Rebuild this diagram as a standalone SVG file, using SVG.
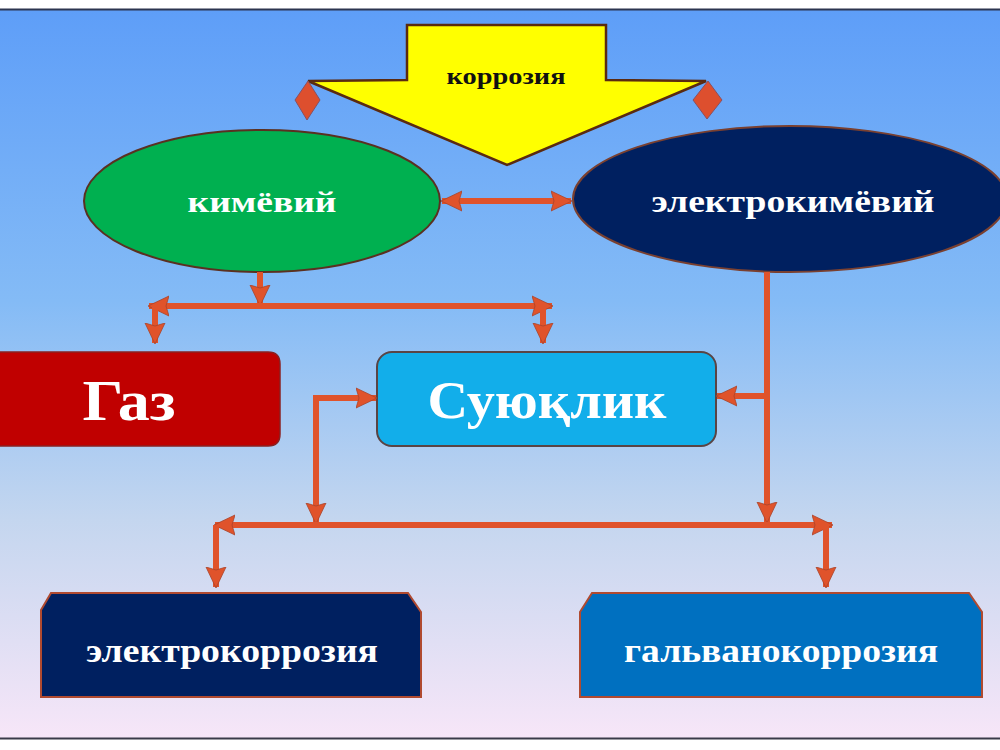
<svg xmlns="http://www.w3.org/2000/svg" width="1000" height="750" viewBox="0 0 1000 750">
<defs>
<linearGradient id="bg" x1="0" y1="0" x2="0" y2="1">
<stop offset="0" stop-color="#5e9ef8"/>
<stop offset="0.4" stop-color="#84bbf6"/>
<stop offset="0.7" stop-color="#c4d6ef"/>
<stop offset="1" stop-color="#f7e6f8"/>
</linearGradient>
<marker id="ah" viewBox="0 0 22 22" markerWidth="22" markerHeight="22" refX="20" refY="11" orient="auto-start-reverse" markerUnits="userSpaceOnUse">
<path d="M0,1 L21,11 L0,21 L3,11 z" fill="#e0532b" stroke="#a8442c" stroke-width="0.8"/>
</marker>
<style>
.t{font-family:"Liberation Serif","Times New Roman",serif;font-weight:bold;text-anchor:middle}
.c{stroke:#e0532b;stroke-width:6;fill:none}
.ca{stroke:#e0532b;stroke-width:6;fill:none;marker-end:url(#ah)}
.cd{stroke:#e0532b;stroke-width:6;fill:none;marker-start:url(#ah);marker-end:url(#ah)}
.dia{fill:#dd4f2e;stroke:#8a5060;stroke-width:1}
</style>
</defs>
<rect x="0" y="0" width="1000" height="750" fill="#ffffff"/>
<rect x="0" y="10" width="1000" height="728" fill="url(#bg)"/>
<line x1="0" y1="9.5" x2="1000" y2="9.5" stroke="#2c3550" stroke-width="2"/>
<line x1="0" y1="738.5" x2="1000" y2="738.5" stroke="#3a3a48" stroke-width="2"/>

<g id="korroziya">
<polygon points="407,25 606,25 606,80 706,81 507,165 308,81 407,80" fill="#ffff00" stroke="#5a2a10" stroke-width="2.5" stroke-linejoin="miter"/>
<text class="t" x="506" y="84" font-size="24" textLength="119" lengthAdjust="spacingAndGlyphs" fill="#111">коррозия</text>
<polygon class="dia" points="308,81 320,100 307,120 295,100"/>
<polygon class="dia" points="708,81 722,100 707,119 693,100"/>
</g>

<g id="kimeviy">
<ellipse cx="262" cy="201" rx="178" ry="71" fill="#00b050" stroke="#5a3020" stroke-width="2"/>
<text class="t" x="262" y="212" font-size="30" textLength="149" lengthAdjust="spacingAndGlyphs" fill="#ffffff">кимёвий</text>
</g>

<g id="elektrokimeviy">
<ellipse cx="790" cy="199" rx="217" ry="73" fill="#002060" stroke="#7a4030" stroke-width="2"/>
<text class="t" x="793" y="212" font-size="31" textLength="283" lengthAdjust="spacingAndGlyphs" fill="#ffffff">электрокимёвий</text>
</g>

<g id="gaz">
<path d="M-10,352 H268 Q280,352 280,364 V434 Q280,446 268,446 H-10 Z" fill="#c00000" stroke="#8a2020" stroke-width="1.5"/>
<text class="t" x="129" y="420" font-size="56" textLength="93" lengthAdjust="spacingAndGlyphs" fill="#ffffff">Газ</text>
</g>

<g id="suyuqlik">
<rect x="377" y="352" width="339" height="94" rx="15" ry="15" fill="#12aeea" stroke="#5a4444" stroke-width="2"/>
<text class="t" x="547" y="418" font-size="52" textLength="239" lengthAdjust="spacingAndGlyphs" fill="#ffffff">Суюқлик</text>
</g>

<g id="elektrokorroziya">
<polygon points="51,593 408,593 421,612 421,697 41,697 41,610" fill="#002060" stroke="#b04a30" stroke-width="2"/>
<text class="t" x="232" y="662" font-size="34" textLength="292" lengthAdjust="spacingAndGlyphs" fill="#ffffff">электрокоррозия</text>
</g>

<g id="galvanokorroziya">
<polygon points="592,593 969,593 982,612 982,697 580,697 580,612" fill="#0070c0" stroke="#b04a30" stroke-width="2"/>
<text class="t" x="781" y="662" font-size="34" textLength="314" lengthAdjust="spacingAndGlyphs" fill="#ffffff">гальванокоррозия</text>
</g>

<g id="connectors">
<line class="cd" x1="442" y1="201" x2="571" y2="201"/>
<line class="ca" x1="260" y1="272" x2="260" y2="305"/>
<line class="cd" x1="149" y1="306" x2="552" y2="306"/>
<line class="ca" x1="155" y1="306" x2="155" y2="343"/>
<line class="ca" x1="543" y1="306" x2="543" y2="343"/>
<line class="ca" x1="316" y1="398" x2="316" y2="523"/>
<line class="ca" x1="313" y1="398" x2="376" y2="398"/>
<line class="ca" x1="767" y1="272" x2="767" y2="522"/>
<line class="ca" x1="770" y1="396" x2="717" y2="396"/>
<line class="cd" x1="215" y1="525" x2="832" y2="525"/>
<line class="ca" x1="216" y1="525" x2="216" y2="587"/>
<line class="ca" x1="826" y1="525" x2="826" y2="587"/>
</g>
</svg>
